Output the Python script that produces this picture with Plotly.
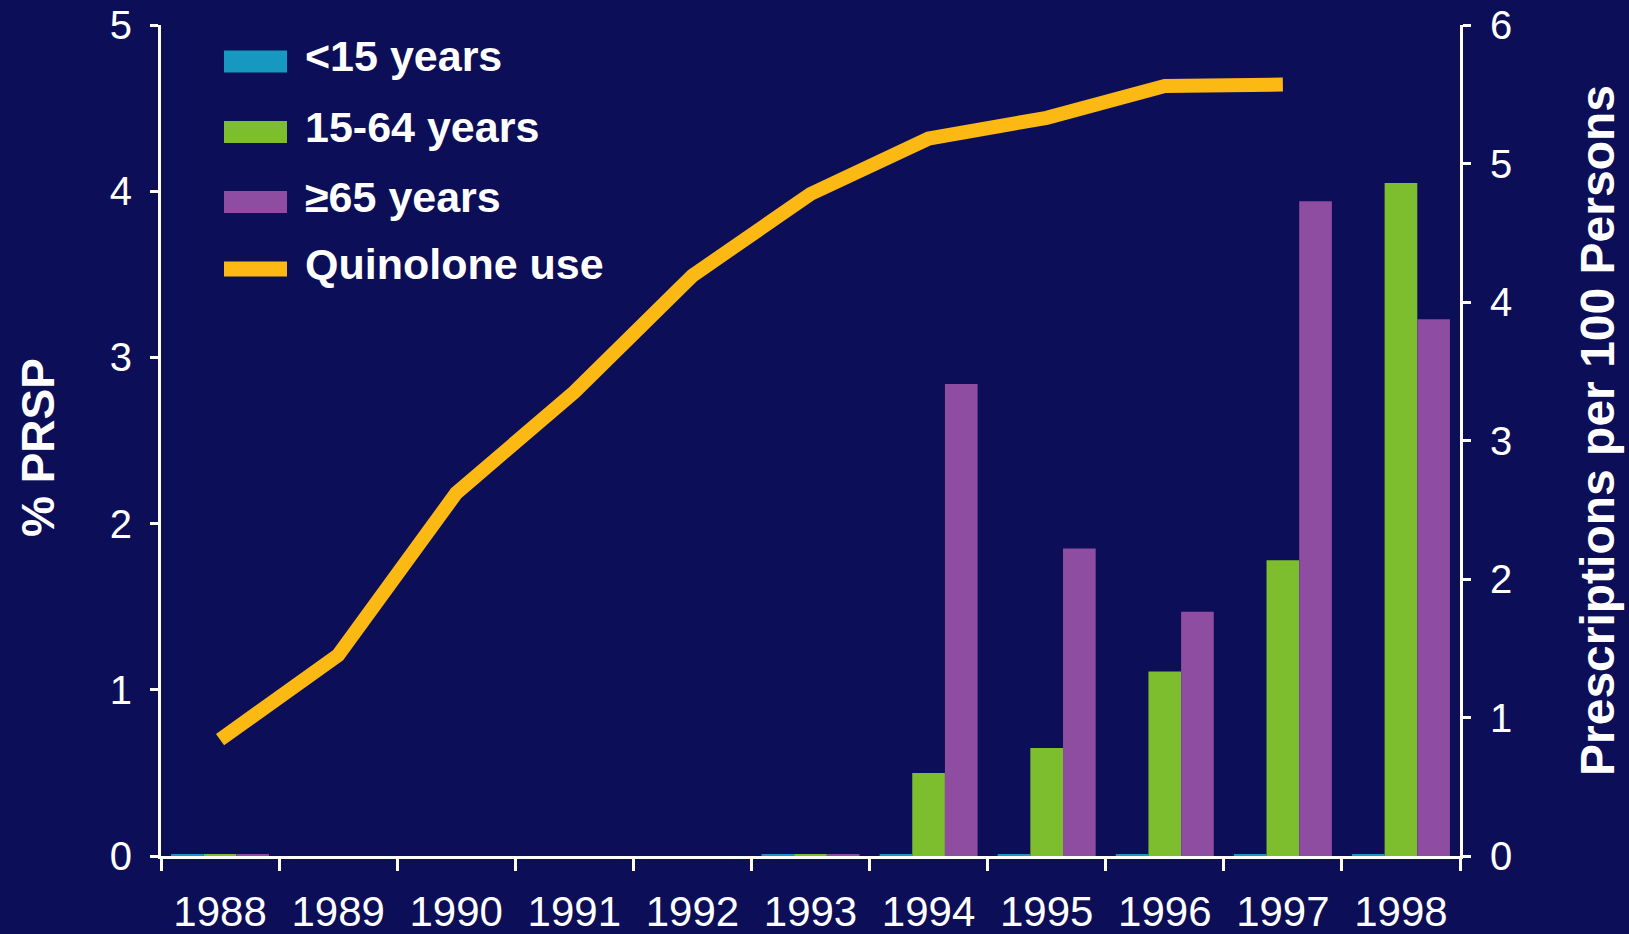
import plotly.graph_objects as go

# Data
years = ["1988", "1989", "1990", "1991", "1992", "1993",
         "1994", "1995", "1996", "1997", "1998"]
prsp_under15 = [0.012, None, None, None, None, 0.012, 0.012, 0.012, 0.012, 0.012, 0.012]
prsp_15_64 = [0.012, None, None, None, None, 0.012, 0.50, 0.65, 1.11, 1.78, 4.05]
prsp_65_plus = [0.012, None, None, None, None, 0.012, 2.84, 1.85, 1.47, 3.94, 3.23]
quinolone_use = [0.84, 1.45, 2.62, 3.35, 4.19, 4.78, 5.18, 5.33, 5.56, 5.57, None]

series_names = ["<15 years", "15-64 years", "\u226565 years", "Quinolone use"]
series_colors = ["#1798C1", "#7DBE2E", "#8E4DA0", "#FDB913"]

BG = "#0C0E58"
FONT = "Liberation Sans, Arial, sans-serif"
W, H = 1629, 934
L, R, T, B = 161, 1460, 25, 856  # plot area edges in pixels

fig = go.Figure()

for vals, name, color in zip([prsp_under15, prsp_15_64, prsp_65_plus],
                             series_names[:3], series_colors[:3]):
    fig.add_trace(go.Bar(x=years, y=vals, name=name, marker_color=color,
                         marker_line_width=0, yaxis="y", showlegend=False))

fig.add_trace(go.Scatter(x=years, y=quinolone_use, name=series_names[3],
                         mode="lines", line=dict(color=series_colors[3], width=14),
                         yaxis="y2", showlegend=False))


def px_x(px):
    return (px - L) / (R - L)


def px_y(py):
    return (B - py) / (B - T)


# Legend drawn as swatches and labels in the upper-left of the plot
shapes = []
annotations = []
legend_rows = [(61.5, 22), (132, 22), (202, 22), (269, 15)]
for (cy, h), name, color in zip(legend_rows, series_names, series_colors):
    shapes.append(dict(type="rect", xref="paper", yref="paper",
                       x0=px_x(224), x1=px_x(287),
                       y0=px_y(cy + h / 2), y1=px_y(cy - h / 2),
                       fillcolor=color, line_width=0, layer="above"))
    annotations.append(dict(xref="paper", yref="paper", x=px_x(303), y=px_y(cy - 5),
                            xanchor="left", yanchor="middle", showarrow=False,
                            text=f"<b>{name.replace('<', '&lt;')}</b>",
                            font=dict(family=FONT, size=43, color="white")))

# Axis titles
annotations.append(dict(xref="paper", yref="paper", x=px_x(38), y=px_y(448),
                        xanchor="center", yanchor="middle", showarrow=False,
                        textangle=-90, text="<b>% PRSP</b>",
                        font=dict(family=FONT, size=46, color="white")))
annotations.append(dict(xref="paper", yref="paper", x=px_x(1597), y=px_y(431),
                        xanchor="center", yanchor="middle", showarrow=False,
                        textangle=-90, text="<b>Prescriptions per 100 Persons</b>",
                        font=dict(family=FONT, size=48, color="white")))

axis_common = dict(showline=True, linecolor="white", linewidth=3,
                   ticks="outside", tickcolor="white", tickwidth=3,
                   showgrid=False, zeroline=False, automargin=False,
                   tickfont=dict(family=FONT, size=40, color="white"))

fig.update_layout(
    width=W, height=H, autosize=False,
    margin=dict(l=L, r=W - R, t=T, b=H - B, pad=0),
    paper_bgcolor=BG, plot_bgcolor=BG,
    barmode="group", bargap=0.17, bargroupgap=0,
    showlegend=False,
    xaxis=dict(type="category", range=[-0.5, 10.5], tickson="boundaries",
               showline=True, linecolor="white", linewidth=3,
               ticks="outside", ticklen=12, tickcolor="white", tickwidth=3,
               showgrid=False, zeroline=False, automargin=False,
               ticklabelstandoff=17,
               tickfont=dict(family=FONT, size=42, color="white")),
    yaxis=dict(range=[0, 5], dtick=1, ticklen=8, ticklabelstandoff=10, **axis_common),
    yaxis2=dict(range=[0, 6], dtick=1, ticklen=8, ticklabelstandoff=11,
                overlaying="y", side="right", **axis_common),
    shapes=shapes,
    annotations=annotations,
)

fig.write_html("out.html")
